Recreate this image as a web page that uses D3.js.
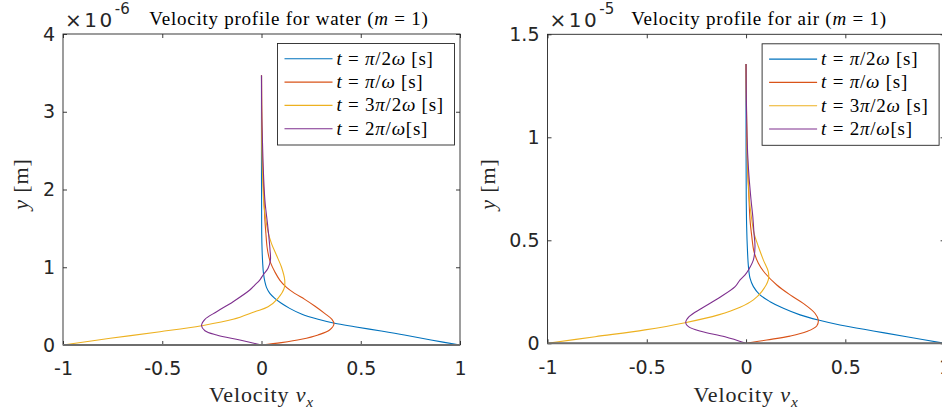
<!DOCTYPE html>
<html>
<head>
<meta charset="utf-8">
<script src="https://cdn.jsdelivr.net/npm/d3@7"></script>
<style>
  body { margin: 0; background: #fff; }
  svg { display: block; }
  text { white-space: pre; }
</style>
</head>
<body>
<svg width="942" height="412"></svg>
<script>
// ---- values (y in units of the axis exponent) ----
var velTicks = [-1, -0.5, 0, 0.5, 1];
var waterYTicks = [0, 1, 2, 3, 4];
var airYTicks = [0, 0.5, 1, 1.5];
var waterExp = "-6";
var airExp = "-5";
var waterTitle = "Velocity profile for water ($m = 1$)";
var airTitle = "Velocity profile for air ($m = 1$)";
var xLabel = "Velocity $v_x$";
var yLabel = "$y$ [m]";
var seriesLabels = ["$t = π/2ω$ [s]", "$t = π/ω$ [s]", "$t = 3π/2ω$ [s]", "$t = 2π/ω$[s]"];
var colors = ["#0072bd", "#d95319", "#edb120", "#7e2f8e"];

// water, y x 1e-6
var waterT1 = [[1,0],[0.854,0.064],[0.720,0.129],[0.603,0.180],[0.469,0.235],[0.368,0.279],[0.285,0.330],
  [0.201,0.398],[0.142,0.471],[0.100,0.536],[0.067,0.600],[0.042,0.664],[0.025,0.741],[0.017,0.814],
  [0.010,0.921],[0.006,1.05],[0.003,1.22],[0.001,1.44],[0,2.2],[0,3.47]];
var waterT2 = [[0,0],[0.100,0.030],[0.201,0.073],[0.285,0.129],[0.343,0.193],[0.365,0.270],[0.355,0.330],
  [0.318,0.407],[0.268,0.501],[0.218,0.587],[0.167,0.664],[0.126,0.741],[0.092,0.835],[0.067,0.942],
  [0.047,1.05],[0.037,1.135],[0.028,1.26],[0.022,1.44],[0.017,1.61],[0.013,1.86],[0.006,2.3],[0.002,2.8],[0,3.47]];
var waterT3 = [[-1,0],[-0.762,0.086],[-0.511,0.171],[-0.302,0.248],[-0.143,0.330],[-0.034,0.428],[0.033,0.492],
  [0.083,0.600],[0.114,0.728],[0.117,0.835],[0.100,1.006],[0.075,1.157],[0.050,1.307],[0.033,1.456],
  [0.022,1.607],[0.013,1.778],[0.004,2.3],[0,3.47]];
var waterT4 = [[0,0],[-0.109,0.064],[-0.226,0.129],[-0.285,0.184],[-0.302,0.248],[-0.285,0.330],[-0.226,0.428],
  [-0.143,0.557],[-0.059,0.707],[-0.034,0.771],[-0.009,0.835],[0.008,0.900],[0.033,0.986],[0.045,1.093],
  [0.043,1.221],[0.037,1.392],[0.030,1.564],[0.022,1.735],[0.017,1.864],[0.010,2.2],[0.005,2.6],[0.001,3.0],[0,3.47]];

// air, y x 1e-5
var airT1 = [[1,0],[0.809,0.032],[0.641,0.060],[0.473,0.089],[0.364,0.113],[0.272,0.138],[0.188,0.170],
  [0.121,0.202],[0.070,0.235],[0.037,0.275],[0.020,0.316],[0.012,0.372],[0.007,0.454],[0.003,0.567],
  [0.001,0.697],[0,1.0],[0,1.356]];
var airT2 = [[0,0],[0.104,0.016],[0.222,0.035],[0.306,0.057],[0.356,0.084],[0.364,0.113],[0.347,0.146],
  [0.288,0.194],[0.222,0.235],[0.155,0.283],[0.096,0.340],[0.062,0.389],[0.040,0.445],[0.029,0.518],
  [0.020,0.599],[0.015,0.697],[0.006,0.9],[0,1.356]];
var airT3 = [[-1,0],[-0.760,0.032],[-0.509,0.065],[-0.307,0.100],[-0.139,0.138],[-0.030,0.175],[0.037,0.211],
  [0.079,0.251],[0.112,0.308],[0.112,0.348],[0.087,0.405],[0.062,0.470],[0.040,0.535],[0.029,0.599],
  [0.017,0.697],[0.007,0.9],[0,1.356]];
var airT4 = [[0,0],[-0.106,0.032],[-0.223,0.057],[-0.290,0.081],[-0.304,0.100],[-0.287,0.129],[-0.223,0.170],
  [-0.139,0.219],[-0.055,0.275],[-0.030,0.308],[-0.005,0.332],[0.012,0.356],[0.037,0.405],[0.045,0.470],
  [0.040,0.535],[0.034,0.615],[0.025,0.697],[0.012,0.85],[0.005,1.0],[0,1.356]];

var sans = "'DejaVu Sans', Verdana, sans-serif";
var serif = "'Liberation Serif', 'Times New Roman', serif";

var svg = d3.select("svg");

var panels = [
  {left: 63, right: 460, top: 34, bottom: 345, yMax: 4, yTicks: waterYTicks, exp: waterExp,
   title: waterTitle, titleX: 289, yLabelX: 28, series: [waterT1, waterT2, waterT3, waterT4]},
  {left: 547.5, right: 944.6, top: 34.3, bottom: 343.3, yMax: 1.5, yTicks: airYTicks, exp: airExp,
   title: airTitle, titleX: 759, yLabelX: 494.5, series: [airT1, airT2, airT3, airT4]}
];

// latex-ish text: $...$ parts get italic letters and _ subscripts
function rich(sel, str) {
  str.split("$").forEach(function(part, i) {
    if (i % 2 === 0) {
      if (part) sel.append("tspan").text(part);
      return;
    }
    for (var k = 0; k < part.length; k++) {
      var c = part[k];
      if (c === "_") {
        k++;
        sel.append("tspan").attr("font-style", "italic").attr("font-size", "0.7em")
          .attr("dy", "0.3em").text(part[k]);
        continue;
      }
      var t = sel.append("tspan").text(c);
      if (/[a-zπω]/.test(c)) t.attr("font-style", "italic");
    }
  });
  return sel;
}

function fmt(d) { return String(d); }

panels.forEach(function(p) {
  var x = d3.scaleLinear().domain([-1, 1]).range([p.left, p.right]);
  var y = d3.scaleLinear().domain([0, p.yMax]).range([p.bottom, p.top]);
  var g = svg.append("g");

  var line = d3.line()
      .x(function(d) { return x(d[0]); })
      .y(function(d) { return y(d[1]); })
      .curve(d3.curveCatmullRom.alpha(0.5));

  g.selectAll(".curve")
      .data(p.series)
    .enter().append("path")
      .attr("class", "curve")
      .attr("d", line)
      .attr("fill", "none")
      .attr("stroke", function(d, i) { return colors[i]; })
      .attr("stroke-width", 1.1);

  // axes, ticks pointing inwards on all four sides
  var axes = [
    [d3.axisBottom(x).tickValues(velTicks).tickFormat(fmt).tickPadding(17), "translate(0," + p.bottom + ")"],
    [d3.axisTop(x).tickValues(velTicks).tickFormat(""), "translate(0," + p.top + ")"],
    [d3.axisLeft(y).tickValues(p.yTicks).tickFormat(fmt).tickPadding(8), "translate(" + p.left + ",0)"],
    [d3.axisRight(y).tickValues(p.yTicks).tickFormat(""), "translate(" + p.right + ",0)"]
  ];
  axes.forEach(function(a) {
    var ag = g.append("g")
        .attr("transform", a[1])
        .call(a[0].tickSizeInner(-4).tickSizeOuter(0));
    ag.select(".domain").remove();
    ag.selectAll("line").attr("stroke", "#262626").attr("stroke-width", 0.9);
    ag.selectAll("text").attr("fill", "#262626").style("font-family", sans).style("font-size", "19px");
  });

  // box
  g.append("rect")
      .attr("x", p.left).attr("y", p.top)
      .attr("width", p.right - p.left).attr("height", p.bottom - p.top)
      .attr("fill", "none").attr("stroke", "#262626").attr("stroke-width", 0.9);
  g.append("line")
      .attr("x1", p.left).attr("x2", p.right).attr("y1", p.bottom).attr("y2", p.bottom)
      .attr("stroke", "#6e6e6e").attr("stroke-width", 2);

  // exponent
  var ex = g.append("text")
      .attr("x", p.left + 2).attr("y", p.top - 7.3)
      .attr("fill", "#262626").style("font-family", sans).style("font-size", "20px");
  ex.append("tspan").style("letter-spacing", "2.5px").text("×10");
  ex.append("tspan").attr("dy", -13).style("font-size", "15px").text(p.exp);

  // title and labels
  rich(g.append("text")
      .attr("x", p.titleX).attr("y", 25)
      .attr("text-anchor", "middle")
      .style("font-family", serif).style("font-size", "19px").style("letter-spacing", "0.04em"), p.title);

  rich(g.append("text")
      .attr("x", (p.left + p.right) / 2).attr("y", 402)
      .attr("text-anchor", "middle").attr("fill", "#262626")
      .style("font-family", serif).style("font-size", "22px").style("letter-spacing", "0.04em"), xLabel);

  rich(g.append("text")
      .attr("transform", "translate(" + p.yLabelX + ",184) rotate(-90)")
      .attr("text-anchor", "middle").attr("fill", "#262626")
      .style("font-family", serif).style("font-size", "22px").style("letter-spacing", "0.04em"), yLabel);

  // legend
  var lw = 177, lh = 101.5;
  var lx = p.right - 5.5 - lw, ly = p.top + 9.5;
  var lg = g.append("g").attr("transform", "translate(" + lx + "," + ly + ")");
  lg.append("rect")
      .attr("width", lw).attr("height", lh)
      .attr("fill", "#fff").attr("stroke", "#262626").attr("stroke-width", 0.9);
  var items = lg.selectAll(".item")
      .data(seriesLabels)
    .enter().append("g")
      .attr("class", "item")
      .attr("transform", function(d, i) { return "translate(0," + (15.3 + i * 23.3) + ")"; });
  items.append("line")
      .attr("x1", 7).attr("x2", 55)
      .attr("stroke", function(d, i) { return colors[i]; })
      .attr("stroke-width", 1.1);
  items.each(function(d) {
    rich(d3.select(this).append("text")
        .attr("x", 59).attr("y", 6)
        .style("font-family", serif).style("font-size", "19px").style("letter-spacing", "0.04em"), d);
  });
});
</script>
</body>
</html>
